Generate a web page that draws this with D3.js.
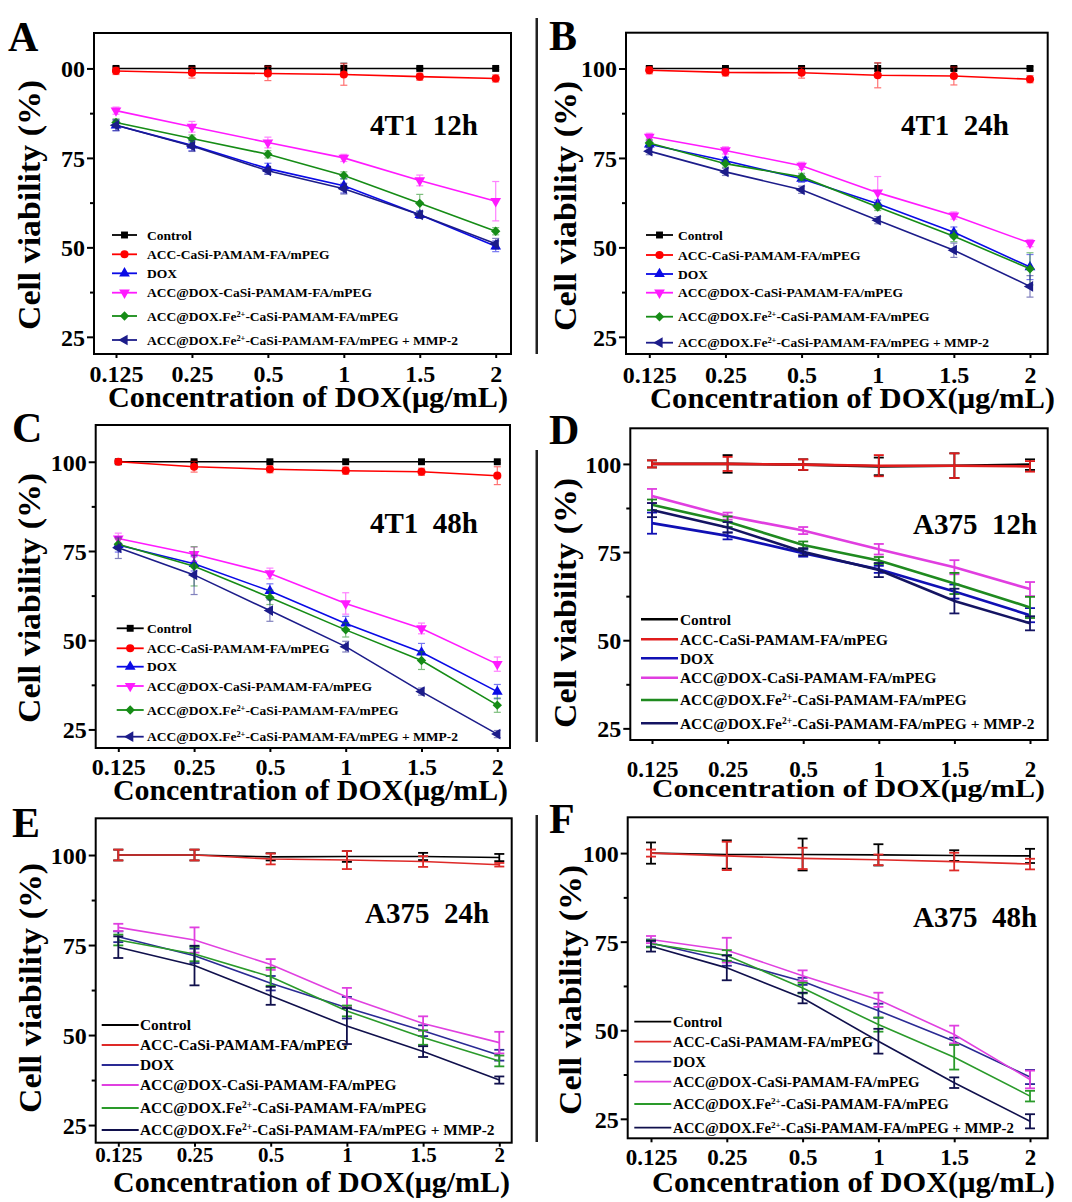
<!DOCTYPE html>
<html><head><meta charset="utf-8">
<script src="https://cdn.jsdelivr.net/npm/d3@7"></script>
<style>
html,body{margin:0;padding:0;background:#fff;}
svg text{font-family:"Liberation Serif","Times New Roman",serif;font-weight:bold;}
</style></head>
<body>
<svg id="chart" width="1072" height="1202"></svg>
<script>
// ---------------- DATA ----------------
const xLabels = ["0.125","0.25","0.5","1","1.5","2"];
const seriesNames = ["Control","ACC-CaSi-PAMAM-FA/mPEG","DOX","ACC@DOX-CaSi-PAMAM-FA/mPEG",
  "ACC@DOX.Fe^2+^-CaSi-PAMAM-FA/mPEG","ACC@DOX.Fe^2+^-CaSi-PAMAM-FA/mPEG + MMP-2"];
const panelLetters = ["A","B","C","D","E","F"];
const panelTitles = ["4T1\u00a0 12h","4T1\u00a0 24h","4T1\u00a0 48h","A375\u00a0 12h","A375\u00a0 24h","A375\u00a0 48h"];
const yTickValues = [25,50,75,100];
const yMinorValues = [37.5,62.5,87.5];
const yTickLabelsA = ["25","50","75","00"];
const yTickLabels = ["25","50","75","100"];
const xTitle = "Concentration of DOX(\u03bcg/mL)";
const yTitle = "Cell viability (%)";

// order: Control, ACC-CaSi, DOX, ACC@DOX, ACC@DOX.Fe2+, +MMP-2
const meansA = [
  [100,100,100,100,100,100],
  [99.3,98.8,98.6,98.3,97.7,97.2],
  [84.1,78.5,72.0,67.2,59.1,50.3],
  [88.2,83.7,79.3,75.0,68.7,62.9],
  [84.9,80.4,76.0,70.1,62.3,54.5],
  [84.1,78.3,71.4,66.4,59.1,51.0]];
const errsA = [
  [0.5,0.5,0.5,1.5,0.3,0.3],
  [1,1.5,2,3,1,1],
  [1.5,1.5,1.5,2,1,1.5],
  [1,1.5,1.5,1,1.5,5.5],
  [1,1,1,1,2.5,1],
  [1.5,1.5,1,1.5,1,1.5]];
const meansB = [
  [100,100,100,100,100,100],
  [99.5,98.9,98.8,98.1,97.9,97.0],
  [78.8,74.2,69.2,62.2,54.2,44.5],
  [80.9,77.1,72.8,65.3,58.9,51.2],
  [79.2,73.4,69.7,61.3,53.1,44.0],
  [76.9,71.1,66.1,57.6,49.2,39.1]];
const errsB = [
  [0.5,0.5,0.5,1.5,0.5,0.5],
  [1,1,1.5,3.5,2.5,1],
  [1,1,1,1,1.5,3.5],
  [1,1,1,4.5,1,1],
  [1,1,1,1,1.5,4.5],
  [1,1,1,1,2,3]];
const meansC = [
  [100,100,100,100,100,100],
  [100,98.6,97.9,97.5,97.2,96.1],
  [76.7,71.4,63.8,54.7,46.6,35.6],
  [78.5,74.1,68.7,60.3,53.3,43.3],
  [76.9,70.7,62.0,52.9,44.3,31.8],
  [75.9,68.3,58.3,48.2,35.6,23.7]];
const errsC = [
  [0.5,0.3,0.3,0.3,0.3,0.3],
  [0.5,1.5,1,1,1,2.5],
  [2,2,2,2,2.5,2],
  [1.5,2,1.5,3,1.5,2],
  [1.5,5.5,2,2,2.5,2],
  [3,5.5,3,1.5,1,1]];
const meansD = [
  [100,100,99.8,99.3,99.5,99.8],
  [100,100,99.8,99.5,99.5,99.3],
  [83.2,79.6,74.7,70.1,63.8,57.1],
  [90.9,85.2,81.1,75.8,70.7,64.5],
  [88.4,83.6,77.0,72.6,66.1,59.3],
  [86.9,82.0,75.1,69.9,61.1,54.8]];
const errsD = [
  [1,2.5,1.5,2.5,3.5,1.5],
  [1,2,1.5,3,3.5,1.5],
  [3,1,1,1,2,2],
  [2,1,1,1.5,2,2],
  [1.5,1.5,1,1,3,3],
  [2,1.5,1,2,3.5,2]];
const meansE = [
  [100,100,99.5,99.6,99.6,99.3],
  [100,100,98.9,98.6,98.2,97.3],
  [77.3,72.0,64.4,57.6,51.2,44.4],
  [79.9,76.4,69.6,60.6,53.2,47.9],
  [76.4,72.5,66.2,56.7,49.3,42.8],
  [74.4,69.3,60.9,52.5,45.4,37.5]];
const errsE = [
  [1.5,1.5,1,1.5,1,1],
  [1.5,1.5,1.5,2.5,1.5,0.5],
  [1.5,2,2,3,1.5,1.5],
  [1,3.5,1.5,2.5,2,3],
  [1.5,2,2.5,1.5,2,1.5],
  [3,5.5,2.5,5,1.5,1]];
const meansF = [
  [100,99.6,99.6,99.5,99.3,99.2],
  [100,99.2,98.5,98.1,97.6,96.9],
  [74.6,69.7,63.8,55.5,46.9,36.8],
  [75.6,72.6,65.4,58.6,48.8,36.1],
  [74.4,71.1,61.9,51.6,42.4,31.4],
  [73.7,67.6,59.1,46.9,35.2,24.3]];
const errsF = [
  [3,4,4.5,3,1.5,2],
  [1,4,3,1.5,2.5,1.5],
  [1,1.5,1,2,1,2],
  [1,3.5,1.5,2,2.5,2.5],
  [1,1.5,1.5,2,3.5,1.5],
  [1.5,3.5,1.5,3.5,1.5,2]];

// ---------------- STYLES / LAYOUT ----------------
const colorsMarker = ["#000000","#ff0000","#0a0ae6","#ff1aff","#168c16","#1c1c8a"];
const colorsD = ["#000000","#e01c1c","#1010b4","#e03ee0","#1f8a1f","#141462"];
const colorsEF = ["#000000","#de2a28","#2a2a94","#e040e0","#2a9a2a","#10104c"];
const symbols = [
  {t:d3.symbolSquare,r:0,s:48},{t:d3.symbolCircle,r:0,s:52},{t:d3.symbolTriangle,r:0,s:50},
  {t:d3.symbolTriangle,r:180,s:50},{t:d3.symbolSquare,r:45,s:44},{t:d3.symbolTriangle,r:-90,s:50}];

const panels = [
 {means:meansA,errs:errsA,ticks:yTickLabelsA,mode:"marker",colors:colorsMarker,
  frame:[94,33,511,354],xr:[116,495.7],yd:[20.2,109.9],tickBase:382,tickFs:24,titleBase:407,titleFs:30,titleX:[108,508],
  yTitleX:40,yTitleY:205,letter:[8,51],ann:[370,135],
  leg:{x:112,len:25,tx:147,fs:13.5,rows:[235,254.3,273.3,292.7,316,340]}},
 {means:meansB,errs:errsB,ticks:yTickLabels,mode:"marker",colors:colorsMarker,
  frame:[626,32.7,1047.7,354],xr:[649.3,1030],yd:[20.2,110],tickBase:383,tickFs:24,titleBase:408,titleFs:30,titleX:[650,1055],
  yTitleX:576,yTitleY:206,letter:[549,50],ann:[901,135],
  leg:{x:646,len:27,tx:678,fs:13.5,rows:[235,255,274,292.7,316.7,342.7]}},
 {means:meansC,errs:errsC,ticks:yTickLabels,mode:"marker",colors:colorsMarker,
  frame:[95.7,425,510,748],xr:[118.3,497.3],yd:[19.8,110.3],tickBase:775,tickFs:24,titleBase:800,titleFs:30,titleX:[113,508],
  yTitleX:40,yTitleY:598,letter:[12,442],ann:[370,533],
  leg:{x:116.7,len:27,tx:147,fs:13.5,rows:[628.3,648.3,666.7,686,710,736.7]}},
 {means:meansD,errs:errsD,ticks:yTickLabels,mode:"line",colors:colorsD,lw:2.6,
  frame:[630.3,428.3,1047.7,740],xr:[652,1030],yd:[21.7,110.1],tickBase:777,tickFs:23,titleBase:797,titleFs:25,titleX:[652,1045],
  yTitleX:576,yTitleY:603,letter:[549,444],ann:[913,534],
  leg:{x:641,len:37,tx:680,fs:15.4,rows:[619.3,639.3,658.3,677.7,700,723.3]}},
 {means:meansE,errs:errsE,ticks:yTickLabels,mode:"line",colors:colorsEF,lw:1.6,
  frame:[95.7,818.3,511.7,1142.7],xr:[118.3,499.3],yd:[20.1,110.2],tickBase:1162,tickFs:21,titleBase:1192,titleFs:29,titleX:[113,510],
  yTitleX:41,yTitleY:988,letter:[12,837],ann:[365,923],
  leg:{x:101.7,len:37,tx:140,fs:15.4,rows:[1025,1045,1065,1085,1108,1130]}},
 {means:meansF,errs:errsF,ticks:yTickLabels,mode:"line",colors:colorsEF,lw:1.6,
  frame:[627.7,817.3,1047.7,1138.3],xr:[651,1030],yd:[19.5,110.1],tickBase:1165,tickFs:23,titleBase:1192,titleFs:29,titleX:[652,1055],
  yTitleX:581,yTitleY:990,letter:[549,833],ann:[913,927],
  leg:{x:634.3,len:37,tx:673,fs:14.8,rows:[1021.7,1041.7,1061.7,1081.7,1104,1127.7]}}
];

const svg = d3.select("#chart");
svg.append("rect").attr("width",1072).attr("height",1202).attr("fill","#fff");

// crop-edge artifacts of the original composite
[[18,354],[450,742],[815,1142]].forEach(r=>{
  svg.append("rect").attr("x",535.5).attr("y",r[0]).attr("width",2.5).attr("height",r[1]-r[0]).attr("fill","#222");
});

function addLabel(sel, name){
  const parts = name.split("^");
  parts.forEach((p,i)=>{
    const t = sel.append("tspan").text(p);
    if(i%2===1){ t.attr("baseline-shift","super").attr("font-size","0.62em"); }
  });
}

panels.forEach((P,pi)=>{
  const g = svg.append("g");
  const [l,t,r,b] = P.frame;
  const x = d3.scaleLinear().domain([0,xLabels.length-1]).range(P.xr);
  const y = d3.scaleLinear().domain(P.yd).range([b,t]);

  // y axis ticks (outward)
  const ya = d3.axisLeft(y).tickValues(yTickValues).tickSize(7).tickFormat((d,i)=>P.ticks[i]);
  const yg = g.append("g").attr("transform",`translate(${l},0)`).call(ya);
  yg.select(".domain").remove();
  yg.selectAll(".tick line").attr("stroke","#000").attr("stroke-width",2);
  yg.selectAll(".tick text").attr("font-size",24).attr("x",-9).attr("dy","0.35em")
    .attr("font-family",'"Liberation Serif","Times New Roman",serif').attr("font-weight","bold").attr("fill","#000");
  const ym = d3.axisLeft(y).tickValues(yMinorValues).tickSize(4).tickFormat("");
  const ymg = g.append("g").attr("transform",`translate(${l},0)`).call(ym);
  ymg.select(".domain").remove();
  ymg.selectAll(".tick line").attr("stroke","#000").attr("stroke-width",2);

  // x axis
  const xa = d3.axisBottom(x).tickValues(d3.range(xLabels.length)).tickSize(4).tickFormat(i=>xLabels[i]);
  const xg = g.append("g").attr("transform",`translate(0,${b})`).call(xa);
  xg.select(".domain").remove();
  xg.selectAll(".tick line").attr("stroke","#000").attr("stroke-width",2);
  xg.selectAll(".tick text").attr("font-size",P.tickFs).attr("y",P.tickBase-b).attr("dy",0)
    .attr("font-family",'"Liberation Serif","Times New Roman",serif').attr("font-weight","bold").attr("fill","#000");

  // titles
  g.append("text").attr("x",P.titleX[0]).attr("y",P.titleBase).attr("font-size",P.titleFs)
    .attr("textLength",P.titleX[1]-P.titleX[0]).attr("lengthAdjust","spacingAndGlyphs").text(xTitle);
  g.append("text").attr("transform",`translate(${P.yTitleX},${P.yTitleY}) rotate(-90)`)
    .attr("text-anchor","middle").attr("font-size",32).attr("textLength",250)
    .attr("lengthAdjust","spacingAndGlyphs").text(yTitle);
  g.append("text").attr("x",P.letter[0]).attr("y",P.letter[1]).attr("font-size",42).text(panelLetters[pi]);
  g.append("text").attr("x",P.ann[0]).attr("y",P.ann[1]).attr("font-size",29).text(panelTitles[pi]);

  const line = d3.line().x((d,i)=>x(i)).y(d=>y(d));
  [0,1,2,3,4,5].forEach(si=>{
    const col = P.colors[si];
    const m = P.means[si], e = P.errs[si];
    const sg = g.append("g");
    const cap = P.mode==="marker" ? 3.5 : 5;
    m.forEach((v,i)=>{
      const xx = x(i), y1 = y(v+e[i]), y2 = y(v-e[i]);
      const eb = sg.append("g").attr("stroke",col).attr("stroke-width",P.mode==="marker"?1.2:1.8)
        .attr("opacity",P.mode==="marker"?0.55:1);
      eb.append("line").attr("x1",xx).attr("x2",xx).attr("y1",y1).attr("y2",y2);
      eb.append("line").attr("x1",xx-cap).attr("x2",xx+cap).attr("y1",y1).attr("y2",y1);
      eb.append("line").attr("x1",xx-cap).attr("x2",xx+cap).attr("y1",y2).attr("y2",y2);
    });
    sg.append("path").attr("d",line(m)).attr("fill","none").attr("stroke",col)
      .attr("stroke-width",P.mode==="marker"?1.6:P.lw);
    if(P.mode==="marker"){
      const sym = symbols[si];
      m.forEach((v,i)=>{
        sg.append("path").attr("d",d3.symbol(sym.t,sym.s)())
          .attr("transform",`translate(${x(i)},${y(v)}) rotate(${sym.r})`).attr("fill",col);
      });
    }
  });

  // legend
  const L = P.leg;
  seriesNames.forEach((name,si)=>{
    const col = P.colors[si];
    const ry = L.rows[si];
    g.append("line").attr("x1",L.x).attr("x2",L.x+L.len).attr("y1",ry).attr("y2",ry)
      .attr("stroke",col).attr("stroke-width",P.mode==="marker"?1.8:(pi===3?2.6:1.8));
    if(P.mode==="marker"){
      const sym = symbols[si];
      g.append("path").attr("d",d3.symbol(sym.t,sym.s)())
        .attr("transform",`translate(${L.x+L.len/2},${ry}) rotate(${sym.r})`).attr("fill",col);
    }
    const tx = g.append("text").attr("x",L.tx).attr("y",ry+L.fs*0.35).attr("font-size",L.fs);
    addLabel(tx,name);
  });

  // frame
  g.append("rect").attr("x",l).attr("y",t).attr("width",r-l).attr("height",b-t)
    .attr("fill","none").attr("stroke","#000").attr("stroke-width",2);
});
</script>
</body></html>
